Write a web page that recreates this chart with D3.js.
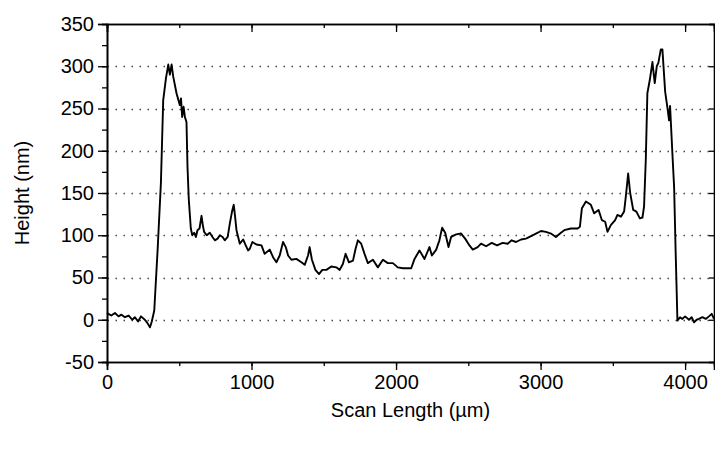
<!DOCTYPE html>
<html>
<head>
<meta charset="utf-8">
<script src="https://cdn.jsdelivr.net/npm/d3@7"></script>
<style>
  body { margin: 0; background: #fff; }
  text { font-family: "Liberation Sans", Arial, sans-serif; fill: #000; }
</style>
</head>
<body>
<div id="chart"></div>
<script>
// profile
var scanLength = [0, 9, 30, 55, 80, 100, 124, 150, 175, 193, 215, 235, 262, 280, 297, 310, 327, 350, 373, 389,
  408, 424, 435, 447, 458, 481, 504, 512, 520, 530, 539, 550, 557, 566, 580, 590, 603, 615, 626, 640,
  654, 663, 672, 690, 711, 730, 746, 765, 781, 800, 815, 835, 850, 865, 877, 885, 896, 919, 942, 960,
  976, 988, 1006, 1034, 1069, 1091, 1126, 1149, 1172, 1195, 1218, 1237, 1253, 1276, 1310, 1345, 1368, 1391, 1402, 1418,
  1442, 1467, 1490, 1518, 1552, 1587, 1610, 1632, 1651, 1674, 1702, 1720, 1736, 1759, 1782, 1805, 1840, 1874, 1909, 1943,
  1978, 2012, 2047, 2088, 2105, 2128, 2162, 2197, 2231, 2248, 2278, 2300, 2319, 2340, 2363, 2381, 2416, 2450, 2478, 2508,
  2531, 2565, 2588, 2623, 2662, 2699, 2738, 2772, 2800, 2830, 2865, 2899, 2934, 2968, 3003, 3037, 3072, 3106, 3141, 3164,
  3210, 3256, 3272, 3286, 3314, 3348, 3371, 3401, 3424, 3447, 3463, 3486, 3516, 3532, 3556, 3578, 3590, 3606, 3620, 3641,
  3663, 3687, 3705, 3716, 3728, 3739, 3756, 3774, 3790, 3804, 3815, 3832, 3843, 3862, 3877, 3889, 3896, 3912, 3924, 3935,
  3947, 3965, 3981, 4000, 4027, 4045, 4062, 4080, 4096, 4120, 4143, 4165, 4184, 4200];

var heightNm = [8, 7, 5, 8, 4, 6, 3, 5, 0, 3, -2, 4, 0, -4, -9, -2, 11, 82, 162, 260,
  286, 302, 290, 302, 288, 268, 254, 262, 240, 252, 240, 234, 181, 142, 108, 100, 103, 98, 106, 108,
  123, 112, 104, 100, 103, 98, 94, 96, 100, 98, 94, 98, 114, 128, 136, 124, 106, 90, 95, 88,
  82, 84, 92, 89, 88, 78, 83, 74, 68, 76, 92, 86, 76, 71, 72, 68, 65, 76, 86, 71,
  59, 54, 59, 59, 63, 62, 59, 66, 78, 68, 70, 84, 94, 90, 78, 67, 71, 62, 71, 67,
  67, 62, 61, 61, 61, 72, 82, 72, 86, 76, 83, 94, 109, 103, 86, 98, 101, 102, 96, 88,
  83, 86, 90, 87, 91, 88, 91, 90, 94, 92, 95, 96, 99, 102, 105, 104, 102, 98, 103, 106,
  108, 108, 110, 132, 140, 136, 126, 130, 118, 116, 104, 112, 118, 124, 122, 128, 146, 173, 150, 130,
  128, 120, 121, 134, 189, 268, 284, 305, 280, 300, 304, 320, 320, 270, 252, 236, 253, 197, 157, 78,
  -1, 3, 1, 4, 0, 3, -3, 0, 1, 3, 1, 4, 7, 1];

var yTicks = [-50, 0, 50, 100, 150, 200, 250, 300, 350];
var gridValues = [0, 50, 100, 150, 200, 250, 300];
var xTicks = [0, 1000, 2000, 3000, 4000];

var W = 715, H = 449;
var plotLeft = 107, plotRight = 714, plotTop = 24, plotBottom = 362;

var svg = d3.select("#chart")
    .append("svg")
        .attr("width", W)
        .attr("height", H);

var x = d3.scaleLinear().domain([0, 4200]).range([plotLeft, plotRight]);
var y = d3.scaleLinear().domain([-50, 350]).range([plotBottom, plotTop]);

// dotted grid
svg.append("g").selectAll("line")
    .data(gridValues)
    .enter().append("line")
        .attr("x1", plotLeft + 1).attr("x2", plotRight)
        .attr("y1", function(d){ return Math.round(y(d)) + 0.5; })
        .attr("y2", function(d){ return Math.round(y(d)) + 0.5; })
        .attr("stroke", "#444")
        .attr("stroke-width", 1.3)
        .attr("stroke-dasharray", "1.5,6.5")
        .attr("stroke-dashoffset", -7.5);

// axes
var minorY = d3.range(-50, 351, 25);
var minorX = d3.range(0, 4201, 500);
// plain hyphen for negatives, no thousands comma
var fmt = function(d){ return String(d); };

svg.append("g")
    .attr("transform", "translate(" + plotLeft + ",0)")
    .call(d3.axisLeft(y).tickValues(minorY).tickSize(5).tickFormat(""));
svg.append("g")
    .attr("transform", "translate(" + plotLeft + ",0)")
    .call(d3.axisLeft(y).tickValues(yTicks).tickSize(9).tickPadding(4).tickFormat(fmt));

svg.append("g")
    .attr("transform", "translate(0," + plotBottom + ")")
    .call(d3.axisBottom(x).tickValues(minorX).tickSize(4).tickFormat(""));
svg.append("g")
    .attr("transform", "translate(0," + plotBottom + ")")
    .call(d3.axisBottom(x).tickValues(xTicks).tickSize(8).tickPadding(5).tickFormat(fmt));

// top and right frame, ticks pointing in
svg.append("g")
    .attr("transform", "translate(0," + plotTop + ")")
    .call(d3.axisBottom(x).tickValues(minorX).tickSize(4).tickFormat(""));
svg.append("g")
    .attr("transform", "translate(0," + plotTop + ")")
    .call(d3.axisBottom(x).tickValues(xTicks).tickSize(8).tickFormat(""));
svg.append("g")
    .attr("transform", "translate(" + plotRight + ",0)")
    .call(d3.axisLeft(y).tickValues(yTicks).tickSize(5).tickFormat(""));

svg.selectAll(".domain").attr("stroke", "#000").attr("stroke-width", 1.6);
svg.selectAll(".tick line").attr("stroke", "#000").attr("stroke-width", 1.3);
svg.selectAll(".tick text")
    .attr("font-family", "'Liberation Sans', Arial, sans-serif")
    .attr("font-size", "20px");

// profile line
var data = scanLength.map(function(d, i){ return { s: d, h: heightNm[i] }; });

var valueline = d3.line()
    .x(function(d){ return x(d.s); })
    .y(function(d){ return y(d.h); })
    .curve(d3.curveLinear);

svg.append("path")
    .datum(data)
    .attr("fill", "none")
    .attr("stroke", "#000")
    .attr("stroke-width", 1.9)
    .attr("stroke-linejoin", "round")
    .attr("d", valueline);

// labels
svg.append("text")
    .attr("x", (plotLeft + plotRight) / 2)
    .attr("y", 417)
    .attr("font-size", "20px")
    .attr("text-anchor", "middle")
    .text("Scan Length (µm)");

svg.append("text")
    .attr("transform", "translate(29," + ((plotTop + plotBottom) / 2) + ") rotate(-90)")
    .attr("font-size", "20px")
    .attr("text-anchor", "middle")
    .text("Height (nm)");
</script>
</body>
</html>
